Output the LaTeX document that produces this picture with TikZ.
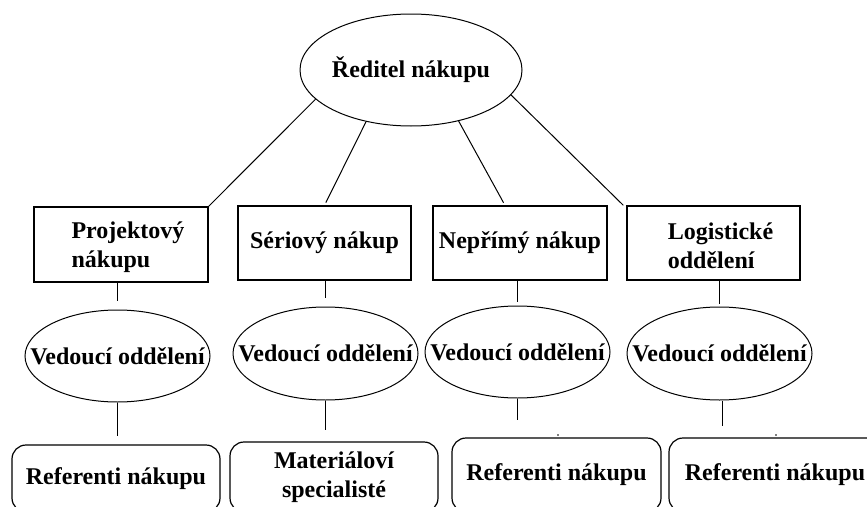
\documentclass[tikz,border=0pt]{standalone}
\usepackage{fontspec}
\setmainfont{Liberation Serif}
\usetikzlibrary{shapes.geometric}

\tikzset{
  lbl/.style={font=\bfseries\fontsize{24}{29}\selectfont, text=black},
  oval/.style={draw, ellipse, inner sep=0pt, line width=1pt, lbl},
  unitbox/.style={draw, rectangle, inner sep=0pt, line width=1.3pt},
  roundbox/.style={draw, rectangle, rounded corners=14pt, inner sep=0pt, line width=1.2pt, lbl, align=center},
  link/.style={line width=1pt},
}

\begin{document}
\begin{tikzpicture}[x=1pt, y=-1pt]
  \useasboundingbox (0,0) rectangle (867,506);
  \clip (0,0) rectangle (867,506);

  % head of purchasing
  \node[oval, minimum width=222pt, minimum height=112pt] (top) at (411,70)
    {\makebox[0pt]{Ředitel nákupu}};

  % departments
  \node[unitbox, minimum width=174pt, minimum height=75pt] (b1) at (121,244.5) {};
  \node[lbl, align=left] (t1) at (128,247) {Projektový\\nákupu};
  \node[unitbox, lbl, minimum width=173pt, minimum height=74pt] (b2) at (324.5,243) {Sériový nákup};
  \node[unitbox, lbl, minimum width=174pt, minimum height=74pt] (b3) at (520,243) {Nepřímý nákup};
  \node[unitbox, minimum width=173pt, minimum height=74pt] (b4) at (713.5,243) {};
  \node[lbl, align=left] (t4) at (720.5,246) {Logistické\\oddělení};

  % department heads
  \node[oval, minimum width=185pt, minimum height=92pt] (e1) at (117.5,356) {\makebox[0pt]{Vedoucí oddělení}};
  \node[oval, minimum width=185pt, minimum height=93pt] (e2) at (325.5,353.5) {\makebox[0pt]{Vedoucí oddělení}};
  \node[oval, minimum width=185pt, minimum height=92pt] (e3) at (517.5,352) {\makebox[0pt]{Vedoucí oddělení}};
  \node[oval, minimum width=185pt, minimum height=93pt] (e4) at (719.5,353.5) {\makebox[0pt]{Vedoucí oddělení}};

  % staff
  \node[roundbox, minimum width=208pt, minimum height=67pt] (r1) at (116,478.5) {Referenti nákupu};
  \node[roundbox, minimum width=208pt, minimum height=70pt] (r2) at (334,477) {Materiáloví\\specialisté};
  \node[roundbox, minimum width=209pt, minimum height=74pt] (r3) at (556.5,475) {Referenti nákupu};
  \node[roundbox, minimum width=212pt, minimum height=74pt] (r4) at (775,475) {Referenti nákupu};

  % head to departments
  \draw[link] (top.197) -- (b1.north east);
  \draw[link, shorten >=3pt] (top.229) -- (b2.north);
  \draw[link, shorten >=3pt] (top.313) -- ([xshift=-15pt]b3.north);
  \draw[link] (top.346) -- ([xshift=-3pt]b4.north west);

  % departments to heads
  \draw[link, shorten >=9pt] (e1.north |- b1.south) -- (e1.north);
  \draw[link, shorten >=9pt] (e2.north |- b2.south) -- (e2.north);
  \draw[link, shorten >=4pt] (e3.north |- b3.south) -- (e3.north);
  \draw[link, shorten >=3pt] (e4.north |- b4.south) -- (e4.north);

  % heads to staff
  \draw[link, shorten >=8pt] (e1.south) -- (e1.south |- r1.north);
  \draw[link, shorten >=11pt] (e2.south) -- (e2.south |- r2.north);
  \draw[link, shorten >=17pt] (e3.south) -- (e3.south |- r3.north);
  \draw[link, shorten >=11pt] ([xshift=3pt]e4.south) -- ([xshift=3pt]e4.south |- r4.north);

  % stray specks above the staff boxes
  \fill (558,435) circle (0.8pt);
  \fill (776,435) circle (0.8pt);
\end{tikzpicture}
\end{document}
